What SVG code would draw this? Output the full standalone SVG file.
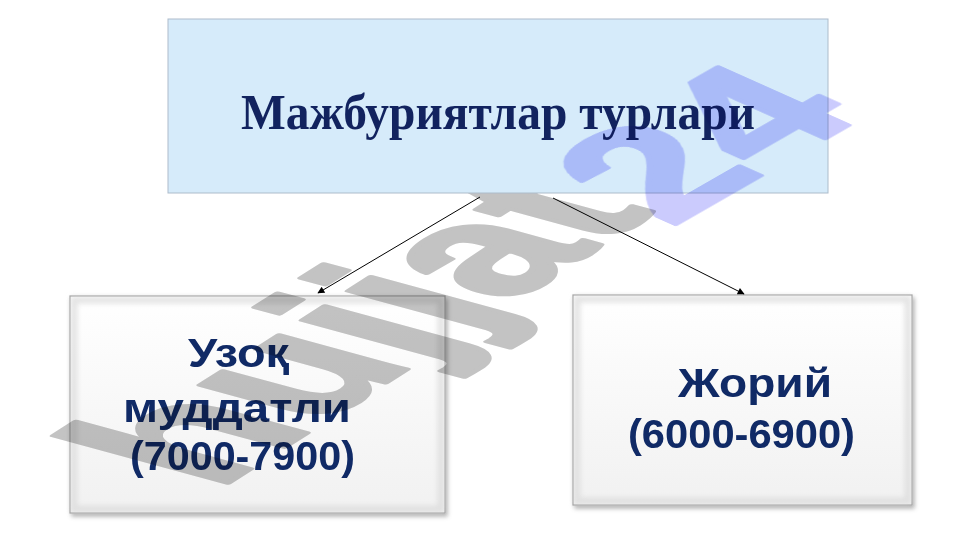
<svg xmlns="http://www.w3.org/2000/svg" width="961" height="540" viewBox="0 0 961 540">
  <defs>
    <style>
      .title { font-family: "Liberation Serif", "Times New Roman", serif; font-weight: bold; fill: #12235F; }
      .lbl { font-family: "Liberation Sans", Arial, sans-serif; font-weight: bold; fill: #102a66; }
      .conn { stroke: #000; stroke-width: 1; fill: none; marker-end: url(#arr); }
      .box { fill: url(#boxg); stroke: #9c9c9c; stroke-width: 1.2; filter: url(#sh); }
      .inner { fill: none; stroke: #d9d9d9; stroke-width: 7; opacity: 0.7; filter: url(#blur); }
      .wm { font-family: "Liberation Sans", Arial, sans-serif; font-weight: bold; font-size: 100px; stroke-width: 2.5; stroke-linejoin: round; }
      .blend { mix-blend-mode: multiply; }
    </style>
    <linearGradient id="boxg" x1="0" y1="0" x2="0" y2="1">
      <stop offset="0" stop-color="#ffffff"/>
      <stop offset="1" stop-color="#f1f1f1"/>
    </linearGradient>
    <filter id="sh" x="-5%" y="-5%" width="115%" height="115%">
      <feDropShadow dx="2" dy="3" stdDeviation="2" flood-color="#000" flood-opacity="0.3"/>
    </filter>
    <filter id="blur" x="-5%" y="-5%" width="110%" height="110%">
      <feGaussianBlur stdDeviation="2.5"/>
    </filter>
    <marker id="arr" viewBox="0 0 10 10" refX="9" refY="5" markerWidth="9" markerHeight="7" orient="auto" markerUnits="userSpaceOnUse">
      <path d="M0,0 L10,5 L0,10 z" fill="#000"/>
    </marker>
  </defs>
  <rect width="961" height="540" fill="#ffffff"/>

  <g id="node-long">
    <rect class="box" x="70" y="296" width="375" height="217"/>
    <rect class="inner" x="74" y="300" width="367" height="209"/>
    <text class="lbl" x="188" y="367" font-size="41" textLength="101" lengthAdjust="spacingAndGlyphs">Узоқ</text>
    <text class="lbl" x="123" y="422" font-size="41" textLength="228" lengthAdjust="spacingAndGlyphs">муддатли</text>
    <text class="lbl" x="130" y="470" font-size="41" textLength="225" lengthAdjust="spacingAndGlyphs">(7000-7900)</text>
  </g>

  <g id="node-current">
    <rect class="box" x="573" y="295" width="339" height="210"/>
    <rect class="inner" x="577" y="299" width="331" height="202"/>
    <text class="lbl" x="678" y="397" font-size="41" textLength="154" lengthAdjust="spacingAndGlyphs">Жорий</text>
    <text class="lbl" x="628" y="448" font-size="41" textLength="227" lengthAdjust="spacingAndGlyphs">(6000-6900)</text>
  </g>

  <g id="watermark-gray" class="blend">
    <text class="wm" transform="matrix(1.65 -1.05 2.41 0.655 216.5 490.5)" fill="#c3c3c3" stroke="#c3c3c3">hujjat</text>
  </g>

  <g id="node-top">
    <rect x="168" y="19" width="660" height="174" fill="#d6ebfa" stroke="#adbccb" stroke-width="1"/>
    <text class="title" x="498" y="129" font-size="50" text-anchor="middle" textLength="514" lengthAdjust="spacingAndGlyphs">Мажбуриятлар турлари</text>
  </g>

  <g id="watermark-24" class="blend">
    <text class="wm" transform="matrix(1.76 -1.01 1.9 0.85 200 497)" fill="#cbcbfd" stroke="#cbcbfd" x="266.7">24</text>
  </g>

  <g id="connectors">
    <line class="conn" x1="480" y1="197" x2="318" y2="293"/>
    <line class="conn" x1="553" y1="198" x2="744" y2="294"/>
  </g>
</svg>
